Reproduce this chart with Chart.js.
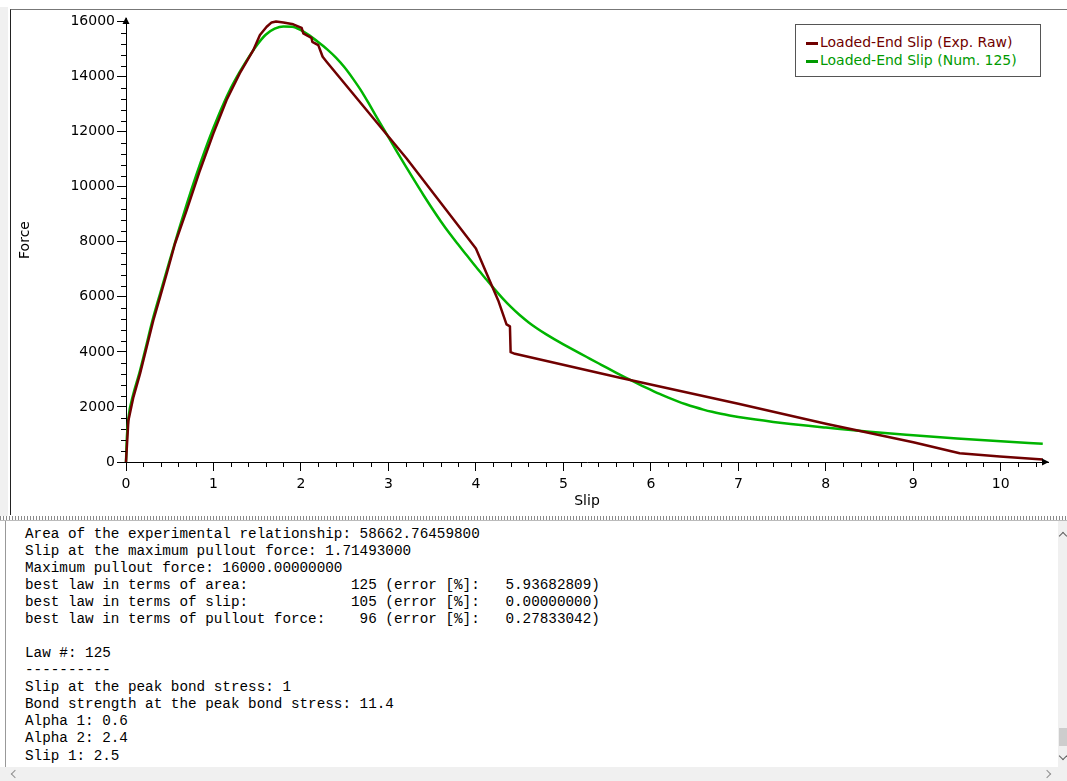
<!DOCTYPE html>
<html>
<head>
<meta charset="utf-8">
<script src="https://cdn.jsdelivr.net/npm/chart.js@4.4.0/dist/chart.umd.min.js"></script>
<style>
  body { margin: 0; background: #fff; width: 1067px; height: 781px; overflow: hidden; position: relative; }
  #strip { position: absolute; left: 0; top: 7px; width: 8px; height: 509px; background: #f0f0f0; }
  #frame { position: absolute; left: 10px; top: 9px; width: 1070px; height: 505px; border-top: 1px solid #777; border-left: 1px solid #222; }
  #plot { position: absolute; left: 0; top: 0; }
  #legend { position: absolute; left: 795px; top: 24px; width: 244px; height: 51px; border: 1px solid #555; background: #fff;
            font: 14px 'DejaVu Sans', Verdana, sans-serif; }
  #legend .row { position: absolute; left: 10px; height: 18px; line-height: 18px; white-space: nowrap; }
  #legend .sw { display: inline-block; width: 12px; height: 3px; vertical-align: middle; margin-right: 2px; }
  #splitter { position: absolute; left: 0; top: 516px; width: 1067px; height: 4px;
              background-image: repeating-linear-gradient(90deg, #8a8a8a 0 1px, #fff 1px 3px);
              border-bottom: 1px solid #bbb; }
  #log { position: absolute; left: 5px; top: 521px; width: 1052px; height: 246px; border-left: 1px solid #999; background: #fff;
         font: 14.3px 'Liberation Mono', 'Courier New', monospace; line-height: 17.08px; color: #000;
         white-space: pre; padding: 4.5px 0 0 19px; box-sizing: border-box; overflow: hidden; }
  #vbar { position: absolute; left: 1058px; top: 521px; width: 9px; height: 246px; background: #f0f0f0; }
  #thumb { position: absolute; left: 1059px; top: 728px; width: 8px; height: 18px; background: #cdcdcd; }
  #hbar { position: absolute; left: 0; top: 767px; width: 1067px; height: 14px; background: #f0f0f0; }
  .chev { position: absolute; width: 5px; height: 5px; border-left: 1.5px solid #606060; border-top: 1.5px solid #606060; }
</style>
</head>
<body>
<div id="strip"></div>
<div id="frame"></div>
<canvas id="plot" width="1067" height="516" style="width:1067px;height:516px"></canvas>
<div id="legend">
  <div class="row" style="top:8px;color:#700000"><span class="sw" style="background:#700000"></span>Loaded-End Slip (Exp. Raw)</div>
  <div class="row" style="top:26px;color:#009a00"><span class="sw" style="background:#009a00"></span>Loaded-End Slip (Num. 125)</div>
</div>
<div id="splitter"></div>
<div id="log">Area of the experimental relationship: 58662.76459800
Slip at the maximum pullout force: 1.71493000
Maximum pullout force: 16000.00000000
best law in terms of area:            125 (error [%]:   5.93682809)
best law in terms of slip:            105 (error [%]:   0.00000000)
best law in terms of pullout force:    96 (error [%]:   0.27833042)

Law #: 125
----------
Slip at the peak bond stress: 1
Bond strength at the peak bond stress: 11.4
Alpha 1: 0.6
Alpha 2: 2.4
Slip 1: 2.5</div>
<div id="vbar"></div>
<div id="thumb"></div>
<div class="chev" style="left:1060px;top:533px;transform:rotate(45deg)"></div>
<div class="chev" style="left:1060px;top:753px;transform:rotate(225deg)"></div>
<div id="hbar"></div>
<div class="chev" style="left:12px;top:771px;transform:rotate(-45deg);border-color:#909090"></div>
<div class="chev" style="left:1044px;top:771px;transform:rotate(135deg);border-color:#909090"></div>

<script>
// Experimental (raw) loaded-end slip curve
const expSlip = [0, 0.027, 0.084, 0.16, 0.236, 0.312, 0.389, 0.465, 0.56, 0.694, 0.846, 0.998, 1.15, 1.30,
  1.455, 1.531, 1.608, 1.665, 1.715, 1.80, 1.912, 2.008, 2.027, 2.12, 2.13, 2.198, 2.248, 2.293,
  3.208, 4.0, 4.255, 4.35, 4.389, 4.397, 4.446, 5.646, 7.0, 8.0, 9.0, 9.53, 9.99, 10.48];
const expForce = [0, 1500, 2350, 3200, 4170, 5140, 5990, 6840, 7930, 9150, 10600, 11930, 13150, 14120,
  14960, 15510, 15810, 15970, 16000, 15970, 15900, 15770, 15570, 15410, 15265, 15145, 14720, 14540,
  11025, 7760, 5870, 5000, 4930, 3990, 3930, 3060, 2116, 1390, 720, 320, 200, 91];

// Numerical law #125
const numSlip = [0, 0.01, 0.03, 0.08, 0.15, 0.22, 0.3, 0.4, 0.5, 0.6, 0.7, 0.8, 0.9, 1.0, 1.1, 1.2,
  1.3, 1.4, 1.5, 1.6, 1.7, 1.8, 1.9, 2.0, 2.1, 2.2, 2.3, 2.4, 2.5, 2.6, 2.7, 2.8, 2.9, 3.0, 3.1, 3.2,
  3.3, 3.4, 3.5, 3.6, 3.7, 3.8, 3.9, 4.0, 4.1, 4.2, 4.3, 4.4, 4.5, 4.6, 4.7, 4.8, 4.9, 5.0, 5.1, 5.2,
  5.3, 5.4, 5.5, 5.6, 5.7, 5.8, 5.9, 6.0, 6.1, 6.2, 6.3, 6.4, 6.5, 6.6, 6.7, 6.8, 6.9, 7.0, 7.2, 7.4,
  7.6, 7.8, 8.0, 8.5, 9.0, 9.5, 10.0, 10.48];
const numForce = [0, 900, 1650, 2420, 3200, 4080, 5110, 6230, 7330, 8400, 9420, 10390, 11300, 12140,
  12910, 13590, 14170, 14690, 15160, 15530, 15740, 15825, 15815, 15690, 15490, 15250, 14990, 14690,
  14330, 13900, 13430, 12890, 12340, 11800, 11260, 10730, 10210, 9700, 9210, 8740, 8300, 7890, 7490,
  7090, 6705, 6325, 5965, 5635, 5340, 5080, 4850, 4645, 4455, 4275, 4100, 3928, 3758, 3588, 3418,
  3250, 3085, 2925, 2770, 2620, 2472, 2338, 2214, 2100, 1997, 1904, 1823, 1753, 1691, 1636, 1540,
  1457, 1383, 1314, 1250, 1095, 970, 855, 750, 662];

const seriesLabels = ['Loaded-End Slip (Exp. Raw)', 'Loaded-End Slip (Num. 125)'];
const seriesColors = ['#700000', '#00b400'];

// axis ranges / ticks
const xMax = 10.54, xMinor = 0.2;
const yMax = 16130, yMinor = 400;
const xTicks = [0, 1, 2, 3, 4, 5, 6, 7, 8, 9, 10];
const yTicks = [0, 2000, 4000, 6000, 8000, 10000, 12000, 14000, 16000];

const toPoints = (xs, ys) => xs.map((v, i) => ({ x: v, y: ys[i] }));

// minor ticks and the arrow heads on the axes
const axisDecor = {
  id: 'axisDecor',
  afterDraw(chart) {
    const { ctx, chartArea: a, scales: { x, y } } = chart;
    ctx.save();
    ctx.strokeStyle = '#000';
    ctx.lineWidth = 1;
    ctx.beginPath();
    for (let i = 1; i * xMinor <= xMax; i++) {
      if (i % 5 === 0) continue;
      const px = Math.round(x.getPixelForValue(i * xMinor)) + 0.5;
      ctx.moveTo(px, a.bottom);
      ctx.lineTo(px, a.bottom + 5);
    }
    for (let i = 1; i * yMinor <= yMax; i++) {
      if (i % 5 === 0) continue;
      const py = Math.round(y.getPixelForValue(i * yMinor)) + 0.5;
      ctx.moveTo(a.left - 5, py);
      ctx.lineTo(a.left, py);
    }
    ctx.stroke();
    ctx.fillStyle = '#000';
    ctx.beginPath();
    ctx.moveTo(a.right + 1, a.bottom);
    ctx.lineTo(a.right - 6, a.bottom - 3.5);
    ctx.lineTo(a.right - 6, a.bottom + 3.5);
    ctx.closePath();
    ctx.fill();
    ctx.beginPath();
    ctx.moveTo(a.left, a.top - 1);
    ctx.lineTo(a.left - 3.5, a.top + 6);
    ctx.lineTo(a.left + 3.5, a.top + 6);
    ctx.closePath();
    ctx.fill();
    ctx.restore();
  }
};

const tickFont = { family: "'DejaVu Sans', Verdana, sans-serif", size: 14 };

new Chart(document.getElementById('plot'), {
  type: 'line',
  data: {
    datasets: [
      {
        label: seriesLabels[0],
        data: toPoints(expSlip, expForce),
        borderColor: seriesColors[0],
        borderWidth: 2.5,
        pointRadius: 0,
        tension: 0,
        borderJoinStyle: 'round',
        clip: 4
      },
      {
        label: seriesLabels[1],
        data: toPoints(numSlip, numForce),
        borderColor: seriesColors[1],
        borderWidth: 2.5,
        pointRadius: 0,
        cubicInterpolationMode: 'monotone',
        clip: 4
      }
    ]
  },
  options: {
    responsive: false,
    animation: false,
    layout: { padding: { left: 0, right: 19, top: 18, bottom: 0 } },
    plugins: { legend: { display: false }, tooltip: { enabled: false } },
    scales: {
      x: {
        type: 'linear',
        min: 0,
        max: xMax,
        afterFit: s => { s.height = 54; },
        afterBuildTicks: s => { s.ticks = xTicks.map(v => ({ value: v })); },
        ticks: { color: '#000', font: tickFont, padding: 5, maxRotation: 0, autoSkip: false },
        grid: { drawOnChartArea: false, drawTicks: true, tickLength: 9, tickColor: '#000' },
        border: { display: true, color: '#000', width: 1 },
        title: { display: true, text: 'Slip', color: '#000', font: tickFont, padding: { top: 0, bottom: 6 } }
      },
      y: {
        type: 'linear',
        min: 0,
        max: yMax,
        afterFit: s => { s.width = 126; },
        afterBuildTicks: s => { s.ticks = yTicks.map(v => ({ value: v })); },
        ticks: { color: '#000', font: tickFont, padding: 2, autoSkip: false, callback: v => String(v) },
        grid: { drawOnChartArea: false, drawTicks: true, tickLength: 9, tickColor: '#000' },
        border: { display: true, color: '#000', width: 1 },
        title: { display: true, text: 'Force', color: '#000', font: tickFont, padding: { top: 17, bottom: 0 } }
      }
    }
  },
  plugins: [axisDecor]
});
</script>
</body>
</html>
